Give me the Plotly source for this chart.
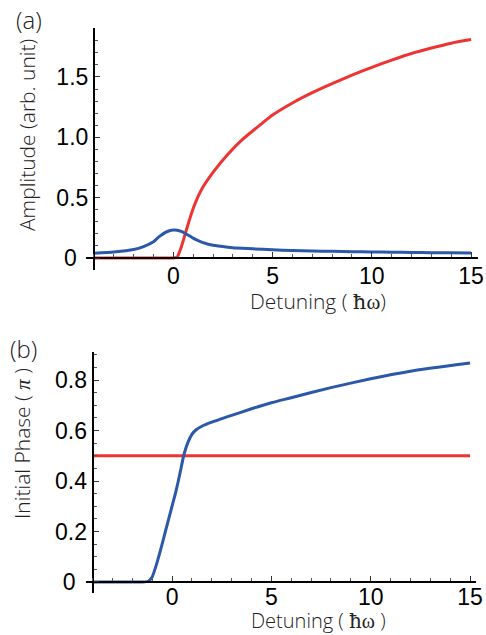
import plotly.graph_objects as go

# ---- data ----
x_amp = [-4, -3, -2, -1.5, -1, -0.8, -0.6, -0.4, -0.2, 0, 0.2, 0.4, 0.6, 0.8, 1.0, 1.25,
         1.5, 2, 2.75, 3.5, 4.5, 5, 6, 7, 8, 9, 10, 11, 12, 13, 14, 15]
amp_red = [0, 0, 0, 0, 0, 0, 0, 0, 0, 0, 0.01, 0.09, 0.2, 0.31, 0.41, 0.51,
           0.59, 0.71, 0.86, 0.985, 1.12, 1.185, 1.285, 1.37, 1.445, 1.515, 1.58, 1.64, 1.695, 1.74, 1.78, 1.81]
amp_blue = [0.04, 0.05, 0.07, 0.095, 0.135, 0.165, 0.19, 0.212, 0.226, 0.232, 0.23, 0.22, 0.203, 0.185, 0.165, 0.145,
            0.128, 0.105, 0.09, 0.08, 0.072, 0.068, 0.062, 0.058, 0.055, 0.052, 0.05, 0.048, 0.046, 0.044, 0.043, 0.041]

x_ph = [-4, -3, -2, -1.5, -1.2, -1, -0.8, -0.6, -0.4, -0.2, 0, 0.2, 0.4, 0.6, 0.8, 1.0, 1.2,
        1.5, 2, 3, 4, 5, 6, 8, 10, 12, 15]
ph_blue = [0, 0, 0, 0, 0.003, 0.02, 0.065, 0.12, 0.18, 0.24, 0.30, 0.36, 0.43, 0.505, 0.553, 0.585, 0.602,
           0.617, 0.633, 0.66, 0.686, 0.71, 0.73, 0.77, 0.805, 0.835, 0.867]
ph_red = [0.5] * len(x_ph)

x_ticks = [0, 5, 10, 15]
amp_ticks = [0, 0.5, 1.0, 1.5]
amp_ticktext = ["0\u2002", "0.5", "1.0", "1.5"]
ph_ticks = [0, 0.2, 0.4, 0.6, 0.8]
ph_ticktext = ["0\u2002", "0.2", "0.4", "0.6", "0.8"]

RED = "#EE3333"
BLUE = "#2B58A8"
W, H = 486, 635

fig = go.Figure()
fig.add_trace(go.Scatter(x=x_amp, y=amp_red, mode="lines", line=dict(color=RED, width=3, shape="spline", smoothing=0.5),
                         xaxis="x", yaxis="y", showlegend=False))
fig.add_trace(go.Scatter(x=x_amp, y=amp_blue, mode="lines", line=dict(color=BLUE, width=3, shape="spline", smoothing=0.5),
                         xaxis="x", yaxis="y", showlegend=False))
fig.add_trace(go.Scatter(x=x_ph, y=ph_red, mode="lines", line=dict(color=RED, width=3),
                         xaxis="x2", yaxis="y2", showlegend=False))
fig.add_trace(go.Scatter(x=x_ph, y=ph_blue, mode="lines", line=dict(color=BLUE, width=3, shape="spline", smoothing=0.5),
                         xaxis="x2", yaxis="y2", showlegend=False))

tickfont = dict(family="Liberation Sans Narrow, Liberation Sans, Arial", size=23, color="black")
xdom = [86 / W, 478 / W]
xdom2 = [86 / W, 476 / W]
ydom1 = [1 - 270 / H, 1 - 28 / H]
ydom2 = [1 - 593 / H, 1 - 352 / H]
xr1 = [-4.40, 15.35]
xr2 = [-4.33, 15.30]
yr1 = [-0.0994, 1.906]
yr2 = [-0.0436, 0.911]


def frac(v, r, d):
    return d[0] + (v - r[0]) / (r[1] - r[0]) * (d[1] - d[0])


common_ax = dict(showgrid=False, zeroline=False, showline=True, linecolor="black", linewidth=2,
                 ticks="inside", ticklen=5, tickwidth=1, tickcolor="#333", tickfont=tickfont,
                 tickmode="array", automargin=False)

fig.update_layout(
    width=W, height=H, margin=dict(l=0, r=0, t=0, b=0, autoexpand=False),
    paper_bgcolor="white", plot_bgcolor="white",
    xaxis=dict(domain=xdom, range=xr1, anchor="free", position=frac(0, yr1, ydom1),
               tickvals=x_ticks, ticktext=[str(v) for v in x_ticks], ticklabelstandoff=-3,
               minor=dict(dtick=1, tick0=0, ticklen=3, tickwidth=1, tickcolor="#555", ticks="inside"),
               **common_ax),
    yaxis=dict(domain=ydom1, range=yr1, anchor="free", position=frac(-4, xr1, xdom),
               tickvals=amp_ticks, ticktext=amp_ticktext,
               minor=dict(dtick=0.1, tick0=0, ticklen=3, tickwidth=1, tickcolor="#555", ticks="inside"),
               **common_ax),
    xaxis2=dict(domain=xdom2, range=xr2, anchor="free", position=frac(0, yr2, ydom2),
                tickvals=x_ticks, ticktext=[str(v) for v in x_ticks], ticklabelstandoff=-6,
                minor=dict(dtick=1, tick0=0, ticklen=3, tickwidth=1, tickcolor="#555", ticks="inside"),
                **common_ax),
    yaxis2=dict(domain=ydom2, range=yr2, anchor="free", position=frac(-4, xr2, xdom2),
                tickvals=ph_ticks, ticktext=ph_ticktext,
                minor=dict(dtick=0.05, tick0=0, ticklen=3, tickwidth=1, tickcolor="#555", ticks="inside"),
                **common_ax),
)

tf_y = dict(family="Open Sans, Lato, sans-serif", size=21, color="#222", weight=300)
tf_x = dict(family="Open Sans, Lato, sans-serif", size=21, color="#222", weight=300)
tf_x2 = dict(family="Open Sans, Lato, sans-serif", size=20, color="#222", weight=300)
hbar = "<span style='font-family:DejaVu Serif, serif'>ħ</span><span style='font-family:Liberation Serif, serif'>ω</span>"
annots = [
    dict(text="(a)", x=29 / W, y=1 - 20 / H, font=dict(family="Open Sans", size=24, color="#222", weight=300)),
    dict(text="(b)", x=23 / W, y=1 - 348 / H, font=dict(family="Open Sans", size=24, color="#222", weight=300)),
    dict(text="Amplitude (arb. unit)", x=27 / W, y=1 - 135 / H, textangle=-90, font=tf_y),
    dict(text="Initial Phase ( <i style='font-family:Liberation Serif'>π</i> )", x=22 / W, y=1 - 444 / H,
         textangle=-90, font=tf_y),
    dict(text="Detuning ( " + hbar + ")", x=318 / W, y=1 - 301 / H, font=tf_x),
    dict(text="Detuning ( " + hbar + " )", x=318 / W, y=1 - 620.5 / H, font=tf_x2),
]
for a in annots:
    fig.add_annotation(xref="paper", yref="paper", showarrow=False, xanchor="center", yanchor="middle", **a)

fig.write_html("out.html", config={"displayModeBar": False},
               post_script="document.body.style.margin='0';document.body.style.overflow='hidden';")
